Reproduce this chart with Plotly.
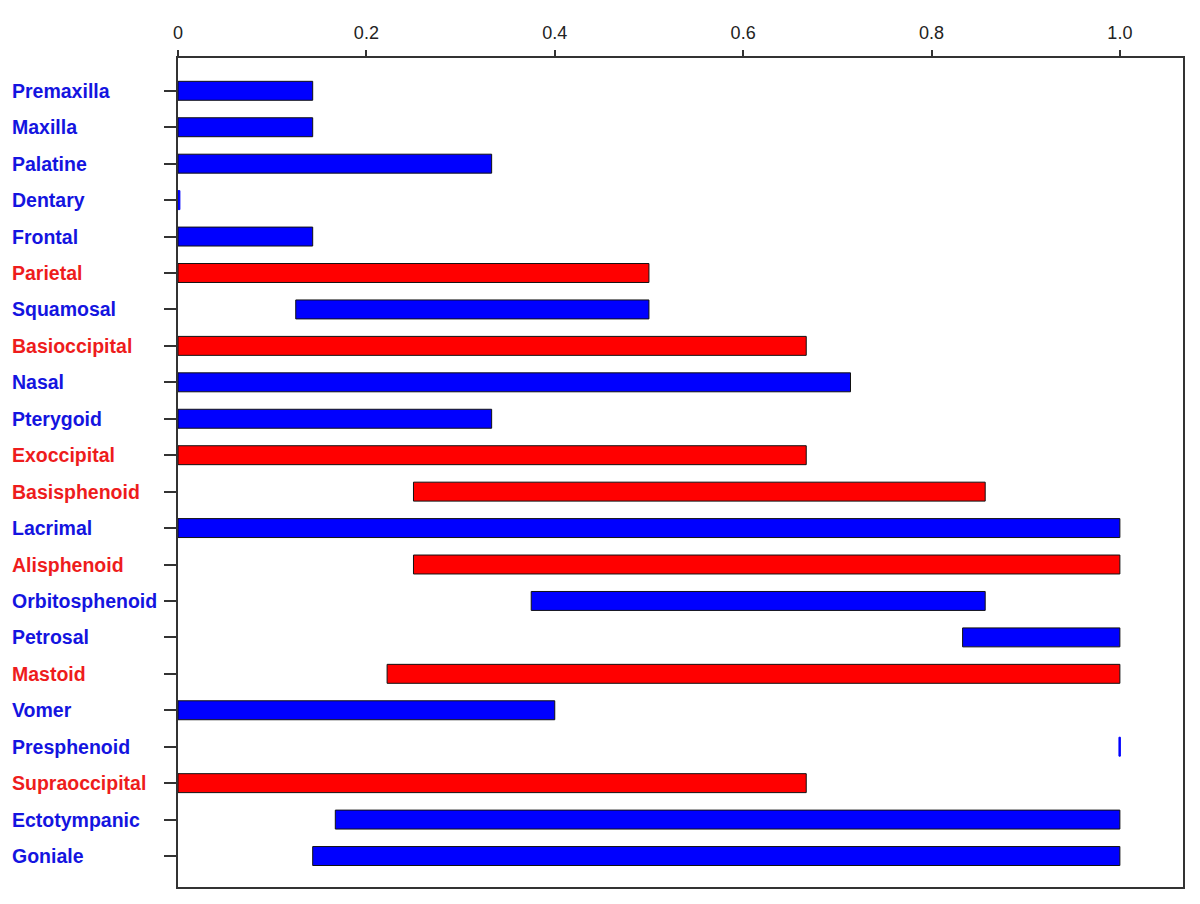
import plotly.graph_objects as go

bones = ["Premaxilla", "Maxilla", "Palatine", "Dentary", "Frontal", "Parietal",
         "Squamosal", "Basioccipital", "Nasal", "Pterygoid", "Exoccipital",
         "Basisphenoid", "Lacrimal", "Alisphenoid", "Orbitosphenoid", "Petrosal",
         "Mastoid", "Vomer", "Presphenoid", "Supraoccipital", "Ectotympanic", "Goniale"]
start = [0, 0, 0, 0, 0, 0,
         0.125, 0, 0, 0, 0,
         0.25, 0, 0.25, 0.375, 0.833,
         0.222, 0, 0.999, 0, 0.167, 0.143]
end = [0.143, 0.143, 0.333, 0.002, 0.143, 0.5,
       0.5, 0.667, 0.714, 0.333, 0.667,
       0.857, 1.0, 1.0, 0.857, 1.0,
       1.0, 0.4, 1.0005, 0.667, 1.0, 1.0]
group = ["b", "b", "b", "b", "b", "r",
         "b", "r", "b", "b", "r",
         "r", "b", "r", "b", "b",
         "r", "b", "b", "r", "b", "b"]
x_ticks = [0, 0.2, 0.4, 0.6, 0.8, 1.0]
x_tick_labels = ["0", "0.2", "0.4", "0.6", "0.8", "1.0"]

bar_col = {"b": "#0000FF", "r": "#FF0000"}
lab_col = {"b": "#1414E0", "r": "#EE1C1C"}

widths = [e - s for s, e in zip(start, end)]
line_cols = [bar_col[g] if w < 0.01 else "#111111" for g, w in zip(group, widths)]

fig = go.Figure(go.Bar(
    y=bones, x=widths, base=start, orientation="h",
    marker=dict(color=[bar_col[g] for g in group],
                line=dict(color=line_cols, width=1)),
    width=0.52, hoverinfo="skip"))

for b, g in zip(bones, group):
    fig.add_annotation(x=-0.167, xref="paper", y=b, yref="y", text="<b>%s</b>" % b,
                       showarrow=False, xanchor="left", yanchor="middle",
                       font=dict(family="Liberation Sans, Arial, sans-serif", size=19.5,
                                 color=lab_col[g]))

fig.update_layout(
    width=1200, height=904,
    margin=dict(l=170, r=25, t=50, b=25),
    plot_bgcolor="white", paper_bgcolor="white",
    showlegend=False,
    xaxis=dict(side="top", range=[0, 1.067], tickvals=x_ticks, ticktext=x_tick_labels,
               ticks="outside", ticklen=6, tickcolor="#333", tickwidth=1.5,
               ticklabelstandoff=4,
               showgrid=False, zeroline=False, showline=True, mirror=True,
               linecolor="#333", linewidth=1.5,
               tickfont=dict(family="Liberation Sans, Arial, sans-serif", size=18, color="#222")),
    yaxis=dict(categoryorder="array", categoryarray=bones, range=[21.85, -0.9],
               ticks="outside", ticklen=12, tickcolor="#333", tickwidth=1.5,
               showticklabels=False, showgrid=False, zeroline=False,
               showline=True, mirror=True, linecolor="#333", linewidth=1.5),
)

fig.write_html("out.html")
